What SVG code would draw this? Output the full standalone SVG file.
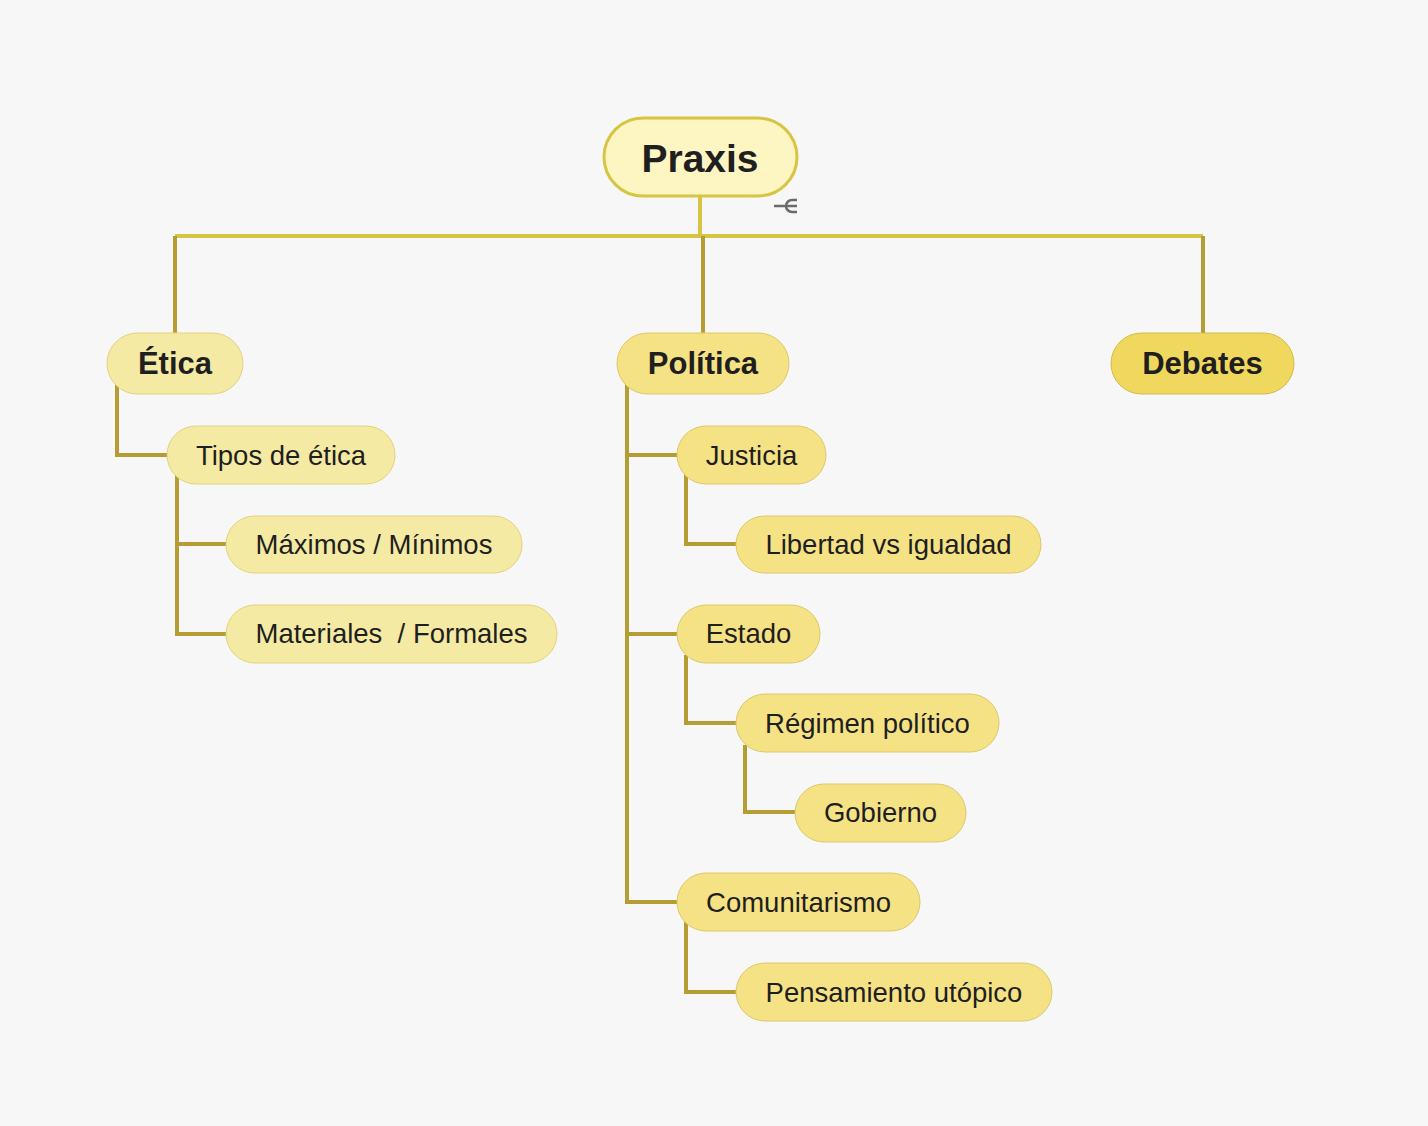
<svg xmlns="http://www.w3.org/2000/svg" width="1428" height="1126" viewBox="0 0 1428 1126">
<style>
.bg{fill:#f7f7f7}
.c{fill:none;stroke:#b59d33;stroke-width:4}
.ct{fill:none;stroke:#d7c444;stroke-width:4}
.root{fill:#fdf5c2;stroke:#d8c443;stroke-width:3}
.e1{fill:#f5eaa3;stroke:#e2d27e;stroke-width:1}
.p1{fill:#f5e285;stroke:#dcc86a;stroke-width:1}
.d1{fill:#f0d75e;stroke:#d2bb4c;stroke-width:1}
text{font-family:"Liberation Sans",Arial,Helvetica,sans-serif;fill:#1f1f1f;text-anchor:middle}
.t0{font-size:39px;font-weight:bold}
.t1{font-size:31px;font-weight:bold}
.t2{font-size:27.5px}
</style>
<rect class="bg" x="0" y="0" width="1428" height="1126"/>
<g id="connectors">
<path class="ct" d="M700 196 V236 M175 236 H1203"/>
<path class="c" d="M175 236 V340 M703 236 V340 M1203 236 V340"/>
<path class="c" d="M117 380 V455 H170"/>
<path class="c" d="M177 475 V634 H230 M177 544 H230"/>
<path class="c" d="M627 380 V902 H680 M627 455 H680 M627 634 H680"/>
<path class="c" d="M686 475 V544 H740"/>
<path class="c" d="M686 655 V723 H740"/>
<path class="c" d="M745 745 V812 H800"/>
<path class="c" d="M686 922 V992 H740"/>
</g>
<g id="praxis">
<rect class="root" x="604" y="118" width="193" height="78" rx="39"/>
<text class="t0" x="700" y="172">Praxis</text>
</g>
<g id="collapse-icon" fill="none" stroke="#6a6a6a" stroke-width="2.5">
<path d="M774 206 H797 M797 200 H792 A6 6 0 0 0 792 212 H797"/>
</g>
<g id="etica">
<rect class="e1" x="107" y="333" width="136" height="61" rx="30.5"/>
<text class="t1" x="175" y="374">Ética</text>
</g>
<g id="politica">
<rect class="p1" x="617" y="333" width="172" height="61" rx="30.5"/>
<text class="t1" x="703" y="374">Política</text>
</g>
<g id="debates">
<rect class="d1" x="1111" y="333" width="183" height="61" rx="30.5"/>
<text class="t1" x="1202.5" y="374">Debates</text>
</g>
<g id="tipos">
<rect class="e1" x="167" y="426" width="228" height="58" rx="29"/>
<text class="t2" x="281" y="465">Tipos de ética</text>
</g>
<g id="maximos">
<rect class="e1" x="226" y="516" width="296" height="57" rx="28.5"/>
<text class="t2" x="374" y="554">Máximos / Mínimos</text>
</g>
<g id="materiales">
<rect class="e1" x="226" y="605" width="331" height="58" rx="29"/>
<text class="t2" x="391.5" y="643">Materiales&#160; / Formales</text>
</g>
<g id="justicia">
<rect class="p1" x="677" y="426" width="149" height="58" rx="29"/>
<text class="t2" x="751.5" y="464.5">Justicia</text>
</g>
<g id="libertad">
<rect class="p1" x="736" y="516" width="305" height="57" rx="28.5"/>
<text class="t2" x="888.5" y="553.5">Libertad vs igualdad</text>
</g>
<g id="estado">
<rect class="p1" x="677" y="605" width="143" height="58" rx="29"/>
<text class="t2" x="748.5" y="643">Estado</text>
</g>
<g id="regimen">
<rect class="p1" x="736" y="694" width="263" height="58" rx="29"/>
<text class="t2" x="867.5" y="732.5">Régimen político</text>
</g>
<g id="gobierno">
<rect class="p1" x="795" y="784" width="171" height="58" rx="29"/>
<text class="t2" x="880.5" y="822">Gobierno</text>
</g>
<g id="comunitarismo">
<rect class="p1" x="677" y="873" width="243" height="58" rx="29"/>
<text class="t2" x="798.5" y="911.5">Comunitarismo</text>
</g>
<g id="pensamiento">
<rect class="p1" x="736" y="963" width="316" height="58" rx="29"/>
<text class="t2" x="894" y="1001.5">Pensamiento utópico</text>
</g>
</svg>
